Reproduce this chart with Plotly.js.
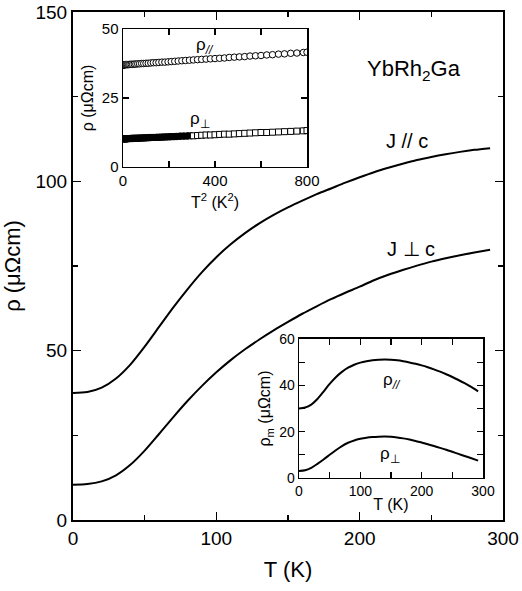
<!DOCTYPE html>
<html><head><meta charset="utf-8">
<script src="https://cdn.plot.ly/plotly-3.0.1.min.js"></script>
<style>body{margin:0;background:#fff}#c{width:522px;height:591px}</style>
</head><body><div id="c"></div>
<script>
// Main panel: resistivity vs T
const T_main = [0,10,20,30,40,50,60,70,80,90,100,110,120,130,140,150,160,170,180,190,200,210,220,230,240,250,260,270,280,291];
const rho_par = [37.5,37.8,39.1,41.8,45.9,51.2,57.0,62.8,68.2,73.2,77.6,81.4,84.7,87.6,90.1,92.3,94.3,96.2,97.9,99.6,101.2,102.7,104.0,105.2,106.3,107.2,108.0,108.7,109.3,109.8];
const rho_perp = [10.4,10.6,11.4,13.2,16.3,20.5,25.4,30.4,35.2,39.6,43.6,47.2,50.4,53.3,56.0,58.5,60.9,63.1,65.2,67.1,68.9,70.8,72.4,73.8,75.1,76.3,77.3,78.2,79.0,79.8];

// Inset 1: rho vs T^2
const T2 = [0,2,4,6,9,12,16,20,25,30,36,42,49,56,64,72,81,90,100,110,121,132,144,156,169,182,196,210,225,240,256,272,289,306,324,342,361,380,400,420,441,462,484,506,529,552,576,600,625,650,676,702,729,756,784,800];
const rho_par_T2 = [37.0,37.0,37.0,37.0,37.1,37.1,37.1,37.1,37.1,37.2,37.2,37.2,37.3,37.3,37.4,37.4,37.5,37.5,37.6,37.6,37.7,37.8,37.8,37.9,38.0,38.0,38.1,38.2,38.3,38.4,38.5,38.6,38.7,38.8,38.9,39.0,39.1,39.2,39.3,39.4,39.5,39.7,39.8,39.9,40.0,40.2,40.3,40.4,40.6,40.7,40.9,41.0,41.2,41.3,41.5,41.6];
const rho_perp_T2 = [10.2,10.2,10.2,10.2,10.2,10.2,10.3,10.3,10.3,10.3,10.3,10.4,10.4,10.4,10.4,10.5,10.5,10.5,10.6,10.6,10.7,10.7,10.7,10.8,10.8,10.9,10.9,11.0,11.0,11.1,11.2,11.2,11.3,11.3,11.4,11.5,11.6,11.6,11.7,11.8,11.9,11.9,12.0,12.1,12.2,12.3,12.4,12.5,12.5,12.6,12.7,12.8,12.9,13.0,13.1,13.2];

// Inset 2: magnetic resistivity
const T_m = [0,10,20,30,40,50,60,70,80,90,100,110,120,130,140,150,160,170,180,190,200,210,220,230,240,250,260,270,280,292];
const rhom_par = [30.0,30.4,31.7,34.1,37.3,40.6,43.5,45.8,47.6,48.9,49.8,50.4,50.8,51.0,51.1,51.0,50.8,50.4,49.9,49.3,48.6,47.8,46.9,45.9,44.8,43.6,42.3,40.9,39.4,37.4];
const rhom_perp = [3.0,3.3,4.4,6.1,8.0,10.0,12.0,13.8,15.2,16.2,16.9,17.4,17.7,17.85,17.9,17.8,17.5,17.1,16.6,16.0,15.3,14.6,13.8,13.0,12.2,11.3,10.4,9.5,8.6,7.5];

const FONT = 'Liberation Sans, Arial, Helvetica, sans-serif';
const line = {color:'black', width:2, shape:'spline', smoothing:0.8};

const traces = [
  {x:T_main, y:rho_par, mode:'lines', line:line, xaxis:'x', yaxis:'y'},
  {x:T_main, y:rho_perp, mode:'lines', line:line, xaxis:'x', yaxis:'y'},
  {x:T2, y:rho_perp_T2, mode:'markers',
   marker:{symbol:'square', size:6, color:T2.map(v => v < 300 ? 'black' : 'white'), line:{color:'black', width:1}},
   xaxis:'x2', yaxis:'y2'},
  {x:T2, y:rho_par_T2, mode:'markers',
   marker:{symbol:'circle', size:6.5, color:T2.map(v => v < 12 ? 'black' : 'white'), line:{color:'black', width:1}},
   xaxis:'x2', yaxis:'y2'},
  {x:T_m, y:rhom_par, mode:'lines', line:line, xaxis:'x3', yaxis:'y3'},
  {x:T_m, y:rhom_perp, mode:'lines', line:line, xaxis:'x3', yaxis:'y3'}
];

function ax(o){
  return Object.assign({
    showline:true, linecolor:'black', linewidth:2, mirror:'allticks',
    ticks:'inside', tickcolor:'black', tickwidth:1.5, ticklen:8,
    showgrid:false, zeroline:false, fixedrange:true,
    tickfont:{family:FONT, size:19, color:'black'}
  }, o);
}

const layout = {
  width:522, height:591,
  margin:{l:73, r:19, t:12, b:71},
  paper_bgcolor:'white', plot_bgcolor:'white',
  showlegend:false,
  font:{family:FONT, color:'black'},
  xaxis: ax({domain:[0,1], range:[0,300], tick0:0, dtick:100,
    minor:{dtick:50, ticks:'inside', ticklen:5, tickcolor:'black', tickwidth:1.5},
    title:{text:'T (K)', font:{family:FONT, size:22}, standoff:14}}),
  yaxis: ax({domain:[0,1], range:[0,150], tick0:0, dtick:50,
    minor:{dtick:25, ticks:'inside', ticklen:5, tickcolor:'black', tickwidth:1.5},
    title:{text:'ρ (μΩcm)', font:{family:FONT, size:22}, standoff:14}}),
  xaxis2: ax({domain:[0.1163,0.5442], anchor:'y2', range:[0,800], tick0:0, dtick:400,
    linewidth:1.5, ticklen:6, tickwidth:1.2, tickfont:{family:FONT, size:15, color:'black'},
    minor:{dtick:200, ticks:'inside', ticklen:6, tickcolor:'black', tickwidth:1.2},
    title:{text:'T<sup>2</sup> (K<sup>2</sup>)', font:{family:FONT, size:16}, standoff:8}}),
  yaxis2: ax({domain:[0.6949,0.9665], anchor:'x2', range:[0,50], tick0:0, dtick:25,
    linewidth:1.5, ticklen:6, tickwidth:1.2, tickfont:{family:FONT, size:15, color:'black'},
    title:{text:'ρ (μΩcm)', font:{family:FONT, size:16}, standoff:4}}),
  xaxis3: ax({domain:[0.5256,0.9535], anchor:'y3', range:[0,300], tick0:0, dtick:100,
    linewidth:1.5, ticklen:6, tickwidth:1.2, tickfont:{family:FONT, size:14, color:'black'},
    minor:{dtick:50, ticks:'inside', ticklen:6, tickcolor:'black', tickwidth:1.2},
    title:{text:'T (K)', font:{family:FONT, size:16}, standoff:0}}),
  yaxis3: ax({domain:[0.0827,0.3563], anchor:'x3', range:[0,60], tick0:0, dtick:20,
    linewidth:1.5, ticklen:6, tickwidth:1.2, tickfont:{family:FONT, size:14, color:'black'},
    minor:{dtick:10, ticks:'inside', ticklen:6, tickcolor:'black', tickwidth:1.2},
    title:{text:'ρ<sub>m</sub> (μΩcm)', font:{family:FONT, size:16}, standoff:4}}),
  annotations:[
    {xref:'x', yref:'y', x:238, y:133, text:'YbRh<sub>2</sub>Ga', showarrow:false, font:{family:FONT, size:22}},
    {xref:'x', yref:'y', x:233, y:112, text:'J // c', showarrow:false, font:{family:FONT, size:20}},
    {xref:'x', yref:'y', x:236, y:80, text:'J ⊥ c', showarrow:false, font:{family:FONT, size:20}},
    {xref:'x2', yref:'y2', x:356, y:44, text:'ρ<sub><i>//</i></sub>', showarrow:false, font:{family:FONT, size:17}},
    {xref:'x2', yref:'y2', x:335, y:17, text:'ρ<sub>⊥</sub>', showarrow:false, font:{family:FONT, size:17}},
    {xref:'x3', yref:'y3', x:151, y:42, text:'ρ<sub><i>//</i></sub>', showarrow:false, font:{family:FONT, size:17}},
    {xref:'x3', yref:'y3', x:148, y:10, text:'ρ<sub>⊥</sub>', showarrow:false, font:{family:FONT, size:17}}
  ]
};

Plotly.newPlot('c', traces, layout, {displayModeBar:false, staticPlot:true});
</script></body></html>
